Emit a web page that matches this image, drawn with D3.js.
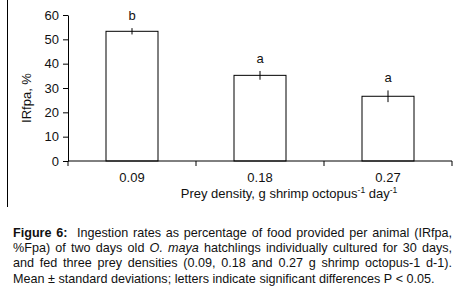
<!DOCTYPE html>
<html>
<head>
<meta charset="utf-8">
<script src="https://cdn.jsdelivr.net/npm/d3@7"></script>
<style>
  body { margin: 0; background: #fff; }
  text { font-family: Arial, "Liberation Sans", sans-serif; fill: #111; }
</style>
</head>
<body>
<div id="chart"></div>
<script>
// data
const densities = ["0.09", "0.18", "0.27"];
const irfpa = [53.3, 35.2, 26.6];
const sdev = [1.3, 1.8, 2.4];
const letters = ["b", "a", "a"];
const yTicks = [0, 10, 20, 30, 40, 50, 60];

const captionLines = [
  [{t: "Figure 6: ", b: true}, {t: " Ingestion rates as percentage of food provided per animal (IRfpa,"}],
  [{t: "%Fpa) of two days old "}, {t: "O. maya", i: true}, {t: " hatchlings individually cultured for 30 days,"}],
  [{t: "and fed three prey densities (0.09, 0.18 and 0.27 g shrimp octopus-1 d-1)."}],
  [{t: "Mean ± standard deviations; letters indicate significant differences P < 0.05."}]
];

const width = 459, height = 290;
const svg = d3.select("#chart").append("svg")
  .attr("width", width).attr("height", height);

const x = d3.scaleBand().domain(densities).range([68, 452]).paddingInner(0).paddingOuter(0);
const y = d3.scaleLinear().domain([0, 60]).range([161, 15]);

// frame line on the left
svg.append("line").attr("x1", 7.5).attr("x2", 7.5).attr("y1", 0).attr("y2", 207)
  .attr("stroke", "#000").attr("stroke-width", 1);

// bars
const bw = 52;
svg.selectAll("rect.bar").data(densities).join("rect")
  .attr("class", "bar")
  .attr("x", d => x(d) + x.bandwidth() / 2 - bw / 2)
  .attr("y", (d, i) => y(irfpa[i]))
  .attr("width", bw)
  .attr("height", (d, i) => y(0) - y(irfpa[i]))
  .attr("fill", "#fff").attr("stroke", "#000").attr("stroke-width", 1);

// error bars
svg.selectAll("line.err").data(densities).join("line")
  .attr("class", "err")
  .attr("x1", d => x(d) + x.bandwidth() / 2).attr("x2", d => x(d) + x.bandwidth() / 2)
  .attr("y1", (d, i) => y(irfpa[i] + sdev[i])).attr("y2", (d, i) => y(irfpa[i] - sdev[i]))
  .attr("stroke", "#000").attr("stroke-width", 1);

// significance letters
svg.selectAll("text.let").data(densities).join("text")
  .attr("class", "let")
  .attr("x", d => x(d) + x.bandwidth() / 2)
  .attr("y", (d, i) => y(irfpa[i] + sdev[i]) - 8)
  .attr("text-anchor", "middle").attr("font-size", 13)
  .text((d, i) => letters[i]);

// y axis
const yAxis = svg.append("g").attr("transform", "translate(68,0)")
  .call(d3.axisLeft(y).tickValues(yTicks).tickSize(5).tickPadding(4).tickSizeOuter(0));
yAxis.select(".domain").attr("stroke", "#000");
yAxis.selectAll("text").attr("font-size", 13).attr("font-family", "Arial, 'Liberation Sans', sans-serif").attr("fill", "#111");

// x axis with ticks at category boundaries
const xAxis = svg.append("g").attr("transform", "translate(0,161)");
xAxis.append("line").attr("x1", 68).attr("x2", 452).attr("y1", 0).attr("y2", 0).attr("stroke", "#000");
const bounds = densities.map(d => x(d)).concat([x.range()[1]]);
xAxis.selectAll("line.tk").data(bounds).join("line")
  .attr("class", "tk")
  .attr("x1", d => d).attr("x2", d => d).attr("y1", 0).attr("y2", 5)
  .attr("stroke", "#000");
xAxis.selectAll("text").data(densities).join("text")
  .attr("x", d => x(d) + x.bandwidth() / 2).attr("y", 21)
  .attr("text-anchor", "middle").attr("font-size", 13)
  .text(d => d);

// axis titles
const xl = svg.append("text").attr("x", 289).attr("y", 198)
  .attr("text-anchor", "middle").attr("font-size", 13);
xl.append("tspan").text("Prey density, g shrimp octopus");
xl.append("tspan").attr("font-size", 8.5).attr("dy", -5).text("-1");
xl.append("tspan").attr("dy", 5).text(" day");
xl.append("tspan").attr("font-size", 8.5).attr("dy", -5).text("-1");

svg.append("text")
  .attr("transform", "translate(31,98) rotate(-90)")
  .attr("text-anchor", "middle").attr("font-size", 13)
  .text("IRfpa, %");

// caption, justified line by line
const capX = 13, capW = 439, base0 = 237, lh = 15.2;
captionLines.forEach((parts, li) => {
  const g = svg.append("g");
  const items = [];
  parts.forEach(p => {
    p.t.split(" ").forEach((w, k) => {
      if (k > 0) {
        const prev = items[items.length - 1];
        if (prev && prev.gap) prev.n += 1;
        else if (prev) items.push({gap: true, n: 1});
      }
      if (w !== "") items.push({w, b: p.b, i: p.i});
    });
  });
  const nodes = items.filter(d => !d.gap).map(d => {
    const t = g.append("text").attr("y", base0 + li * lh).attr("font-size", 12.6)
      .attr("font-weight", d.b ? "bold" : null)
      .attr("font-style", d.i ? "italic" : null)
      .text(d.w);
    d.node = t; d.len = t.node().getComputedTextLength();
    return d;
  });
  const gaps = items.filter(d => d.gap).map(d => d.n);
  const total = nodes.reduce((s, d) => s + d.len, 0);
  const last = li === captionLines.length - 1;
  const unit = last ? 3.5 : (capW - total) / d3.sum(gaps);
  let cx = capX;
  nodes.forEach((d, k) => {
    d.node.attr("x", cx);
    cx += d.len;
    if (k < gaps.length) cx += unit * gaps[k];
  });
});
</script>
</body>
</html>
